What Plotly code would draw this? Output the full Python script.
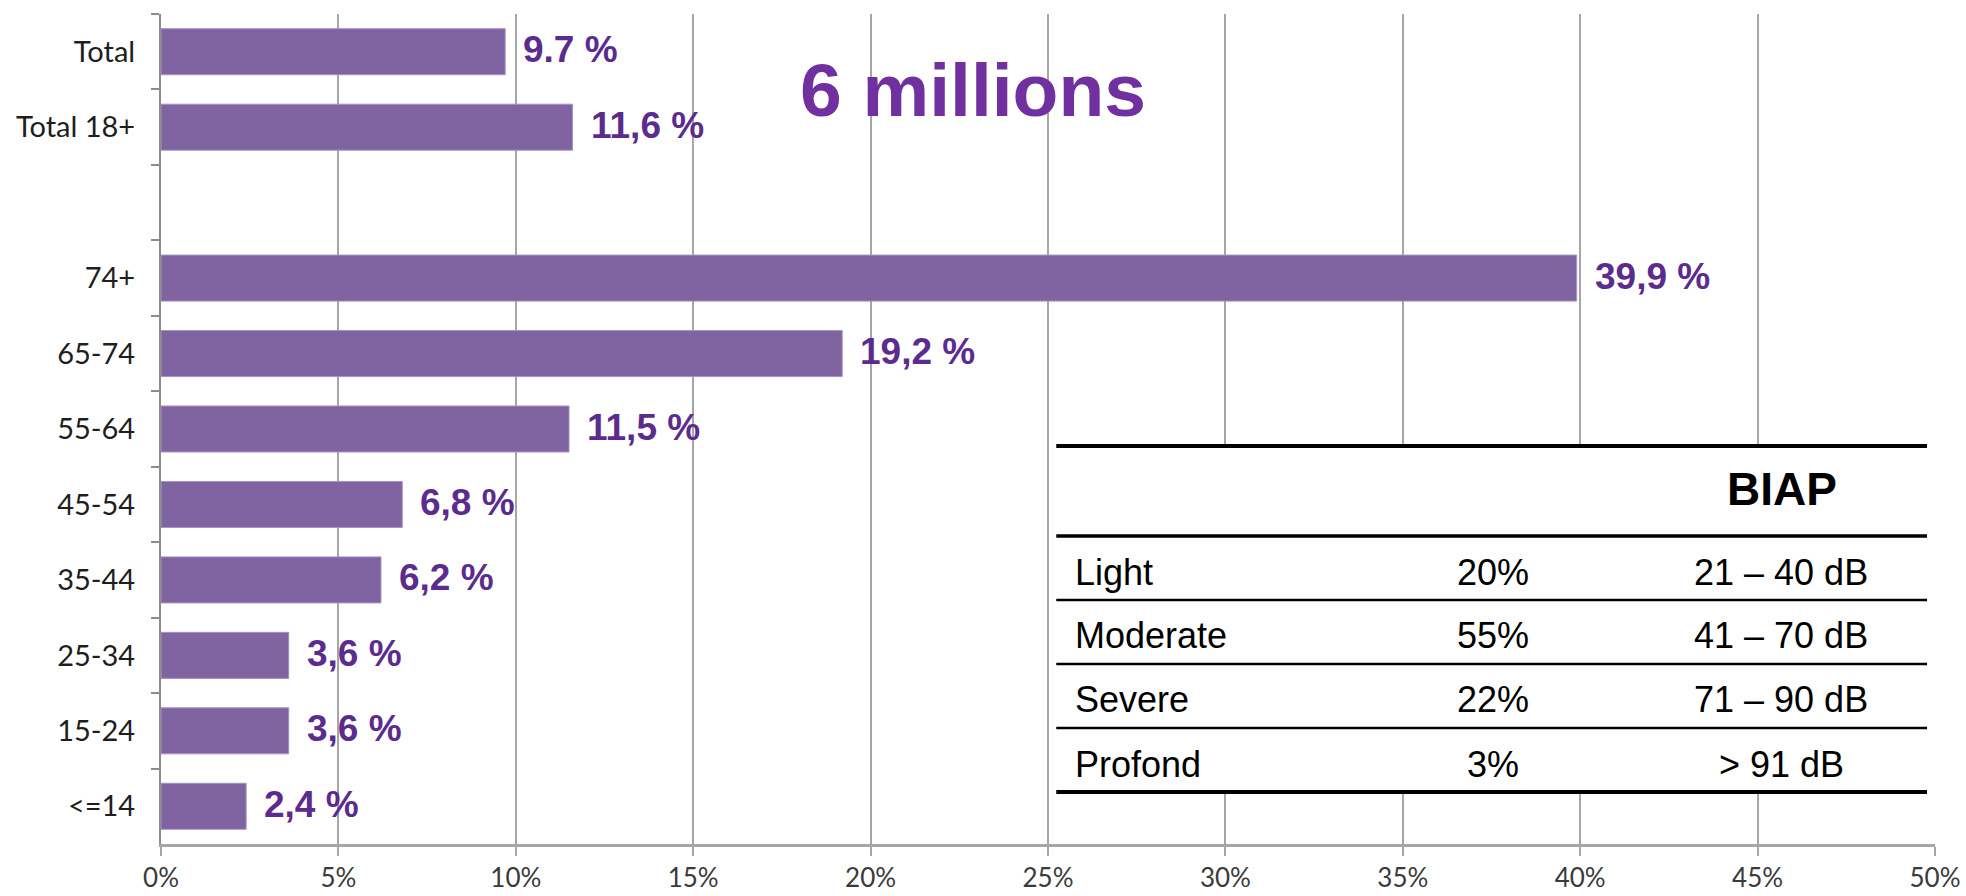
import plotly.graph_objects as go

# ---- data ----
categories = ["Total", "Total 18+", " ", "74+", "65-74", "55-64", "45-54",
              "35-44", "25-34", "15-24", "<=14"]
values = [9.7, 11.6, None, 39.9, 19.2, 11.5, 6.8, 6.2, 3.6, 3.6, 2.4]
value_labels = ["9.7 %", "11,6 %", "", "39,9 %", "19,2 %", "11,5 %", "6,8 %",
                "6,2 %", "3,6 %", "3,6 %", "2,4 %"]
x_ticks = [0, 5, 10, 15, 20, 25, 30, 35, 40, 45, 50]
x_tick_labels = ["0%", "5%", "10%", "15%", "20%", "25%", "30%", "35%", "40%",
                 "45%", "50%"]

headline = "6 millions"
table_title = "BIAP"
severity = ["Light", "Moderate", "Severe", "Profond"]
shares = ["20%", "55%", "22%", "3%"]
db_ranges = ["21 \u2013 40 dB", "41 \u2013 70 dB", "71 \u2013 90 dB", "> 91 dB"]

# ---- layout geometry (pixels) ----
W, H = 1966, 896
L, R, T, B = 160.5, 1935, 14, 844


def px(xp):
    return (xp - L) / (R - L)


def py(yp):
    return (B - yp) / (B - T)


BAR = "#8064A2"
LABEL = "#5B2C8E"
GRID = "#A6A6A6"
AXIS = "#8C8C8C"
TICKFONT = "Lato, Calibri, sans-serif"

fig = go.Figure()
fig.add_trace(go.Bar(
    y=categories, x=values, orientation="h",
    marker=dict(color=BAR, line=dict(color="#A593C2", width=1)),
    hoverinfo="skip", showlegend=False,
))

annotations = []
for cat, v, lab in zip(categories, values, value_labels):
    if v is None:
        continue
    annotations.append(dict(
        x=v, y=cat, xref="x", yref="y", text=lab, showarrow=False,
        xanchor="left", yanchor="middle", xshift=16, yshift=2,
        font=dict(family="Liberation Sans, Arial", size=37, color=LABEL,
                  weight="bold"),
    ))

# headline
annotations.append(dict(
    x=px(973), y=py(90), xref="paper", yref="paper", text=headline,
    showarrow=False, xanchor="center", yanchor="middle",
    font=dict(family="Liberation Sans, Arial", size=75, color="#7030A0",
              weight="bold"),
))

# table
tx0, tx1 = 1056, 1927
line_specs = [(446, 4), (536, 3.5), (600, 2.5), (664, 2.5), (728, 2.5), (792, 4)]
shapes = [dict(type="rect", xref="paper", yref="paper",
               x0=px(tx0), x1=px(tx1), y0=py(792), y1=py(446),
               fillcolor="white", line=dict(width=0), layer="above")]
for yy, w in line_specs:
    shapes.append(dict(type="line", xref="paper", yref="paper",
                       x0=px(tx0), x1=px(tx1), y0=py(yy), y1=py(yy),
                       line=dict(color="black", width=w), layer="above"))

annotations.append(dict(
    x=px(1782), y=py(489), xref="paper", yref="paper", text=table_title,
    showarrow=False, xanchor="center", yanchor="middle",
    font=dict(family="Liberation Sans, Arial", size=46, color="black",
              weight="bold"),
))
row_y = [572, 635, 699, 764]
tfont = dict(family="Liberation Sans, Arial", size=36, color="black")
for ry, s, sh, dr in zip(row_y, severity, shares, db_ranges):
    annotations.append(dict(x=px(1073), y=py(ry), xref="paper", yref="paper",
                            text=s, showarrow=False, xanchor="left",
                            yanchor="middle", font=tfont))
    annotations.append(dict(x=px(1493), y=py(ry), xref="paper", yref="paper",
                            text=sh, showarrow=False, xanchor="center",
                            yanchor="middle", font=tfont))
    annotations.append(dict(x=px(1781), y=py(ry), xref="paper", yref="paper",
                            text=dr, showarrow=False, xanchor="center",
                            yanchor="middle", font=tfont))

fig.update_layout(
    width=W, height=H,
    margin=dict(l=L, r=W - R, t=T, b=H - B, pad=0, autoexpand=False),
    paper_bgcolor="white", plot_bgcolor="white",
    bargap=0.39,
    xaxis=dict(range=[0, 50], tickmode="array", tickvals=x_ticks,
               ticktext=x_tick_labels, automargin=False,
               showgrid=True, gridcolor=GRID, gridwidth=1.5,
               showline=True, linecolor="#A6A6A6", linewidth=3,
               ticks="outside", ticklen=9, tickcolor="#A6A6A6", tickwidth=1.5,
               tickfont=dict(family=TICKFONT, size=26, color="#3A3A3A"),
               ticklabelstandoff=0, zeroline=False, fixedrange=True),
    yaxis=dict(type="category", categoryorder="array", categoryarray=categories,
               autorange="reversed", showgrid=False, automargin=False,
               showline=True, linecolor=AXIS, linewidth=2,
               ticks="outside", ticklen=8, tickcolor=AXIS, tickwidth=2,
               tickson="boundaries",
               tickfont=dict(family=TICKFONT, size=29, color="#1E1E1E"),
               ticklabelstandoff=18, fixedrange=True),
    annotations=annotations,
    shapes=shapes,
)

fig.write_html("out.html")
